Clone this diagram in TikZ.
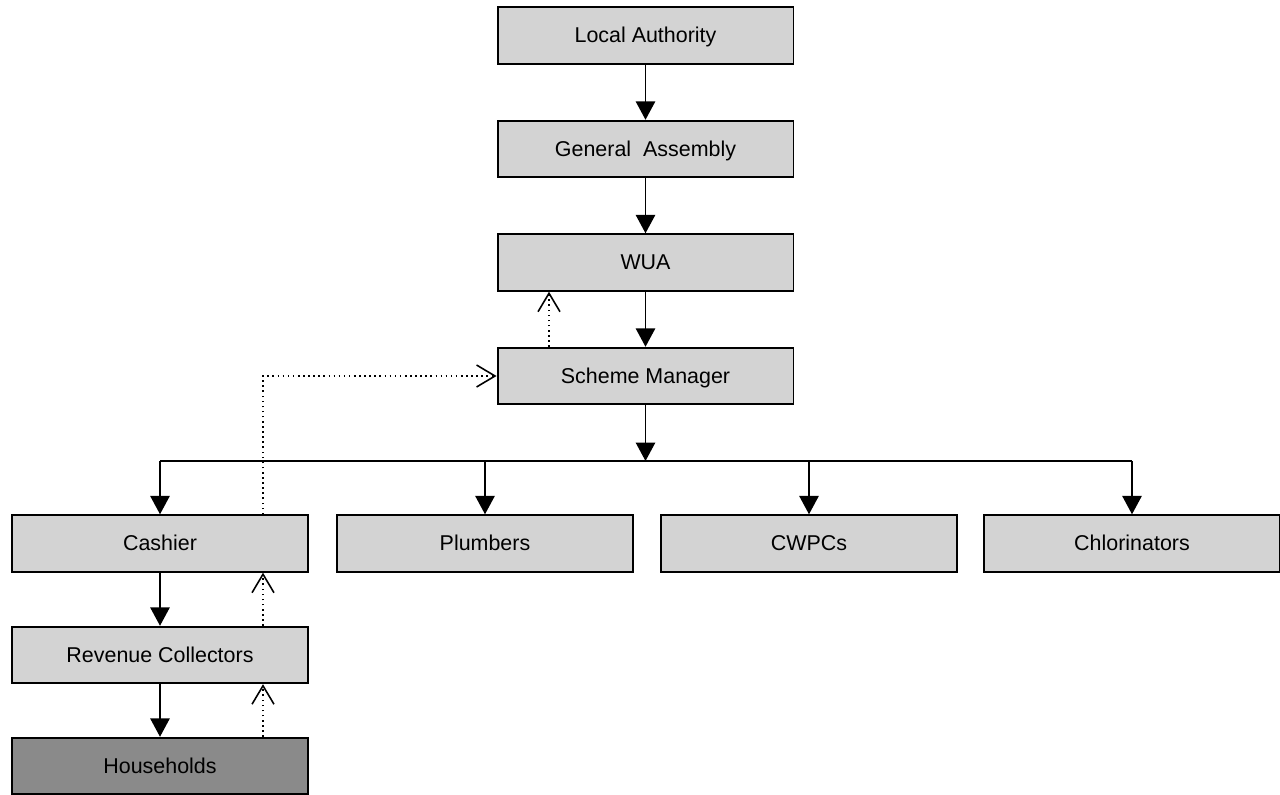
\documentclass[tikz,border=0pt]{standalone}
\usepackage{fontspec}
\setmainfont{Liberation Sans}
\usetikzlibrary{arrows.meta}
\definecolor{boxgrey}{RGB}{211,211,211}
\definecolor{hhgrey}{RGB}{138,138,138}
\begin{document}
\begin{tikzpicture}[x=0.02cm, y=-0.02cm,
    unit/.style={draw, line width=1.1pt, fill=boxgrey, minimum width=5.92cm, minimum height=1.13cm,
                 inner sep=0pt, text height=9.4pt, text depth=1.2pt, font=\fontsize{12.2}{14}\selectfont},
    line/.style={line width=1.1pt},
    order/.style={line width=1.1pt, -{Triangle[length=10.5pt, width=11pt]}},
    report/.style={line width=0.9pt, dotted, -{Straight Barb[length=10.5pt, width=12.5pt, line width=0.9pt]}}]
    \useasboundingbox (0,0) rectangle (1280,794);

    % Cadena principal
    \node[unit] (la) at (645.5,35.5) {Local Authority};
    \node[unit] (ga) at (645.5,149) {General\ \ Assembly};
    \node[unit] (wua) at (645.5,262.5) {WUA};
    \node[unit] (sm) at (645.5,376) {Scheme Manager};

    % Personal del esquema
    \node[unit] (cash) at (160,543.5) {Cashier};
    \node[unit] (plumb) at (485,543.5) {Plumbers};
    \node[unit] (cwpc) at (809,543.5) {CWPCs};
    \node[unit] (chlor) at (1132,543.5) {Chlorinators};
    \node[unit] (rev) at (160,655) {Revenue Collectors};
    \node[unit, fill=hhgrey] (hh) at (160,766) {Households};

    % Flechas de mando
    \draw[order] (la) -- (ga);
    \draw[order] (ga) -- (wua);
    \draw[order] (wua) -- (sm);
    \coordinate (split) at (645.5,461);
    \draw[order] (sm) -- (split);
    \draw[line] (cash.north |- split) -- (chlor.north |- split);
    \draw[order] (cash.north |- split) -- (cash.north);
    \draw[order] (plumb.north |- split) -- (plumb.north);
    \draw[order] (cwpc.north |- split) -- (cwpc.north);
    \draw[order] (chlor.north |- split) -- (chlor.north);
    \draw[order] (cash) -- (rev);
    \draw[order] (rev) -- (hh);

    % Flechas de informe (punteadas)
    \coordinate (up) at (549,0);
    \coordinate (side) at (263,0);
    \draw[report] (sm.north -| up) -- (wua.south -| up);
    \draw[report] (cash.north -| side) |- (sm.west);
    \draw[report] (rev.north -| side) -- (cash.south -| side);
    \draw[report] (hh.north -| side) -- (rev.south -| side);
\end{tikzpicture}
\end{document}
